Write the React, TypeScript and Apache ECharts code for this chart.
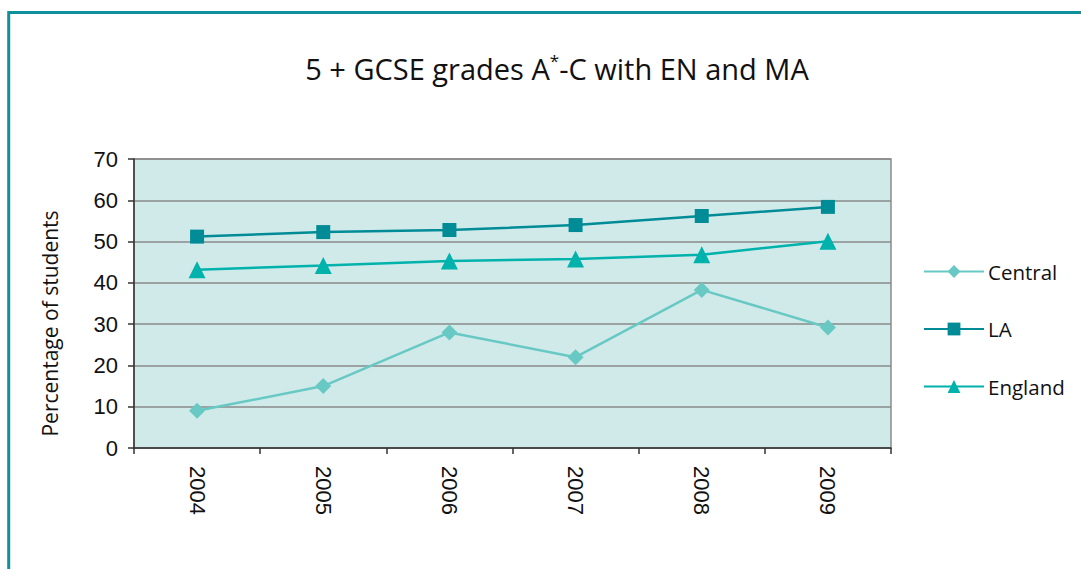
import React, { useEffect, useRef } from "react";
import * as echarts from "echarts";

const years = ["2004", "2005", "2006", "2007", "2008", "2009"];
const centralValues = [9, 15, 28, 22, 38.3, 29.2];
const laValues = [51.2, 52.3, 52.8, 54, 56.2, 58.4];
const englandValues = [43.2, 44.2, 45.3, 45.8, 46.8, 50.1];
const seriesNames = ["Central", "LA", "England"];
const titleText = "5 + GCSE grades A{s|*}-C with EN and MA";
const yAxisTitle = "Percentage of students";

export default function App() {
  const ref = useRef<HTMLDivElement>(null);
  useEffect(() => {
    if (!ref.current) return;
    const chart = echarts.init(ref.current, undefined, { renderer: "svg" });
    const lineSeries = (name: string, data: number[], color: string, symbol: string, size: number) => ({
      name,
      type: "line",
      data,
      symbol,
      symbolSize: size,
      lineStyle: { color, width: 2.5 },
      itemStyle: { color },
      showAllSymbol: true,
    });
    chart.setOption({
      animation: false,
      backgroundColor: "#ffffff",
      title: {
        text: titleText,
        left: 552,
        top: 44,
        textAlign: "center",
        textStyle: {
          fontFamily: "Open Sans",
          fontWeight: "normal",
          fontSize: 29,
          color: "#111",
          lineHeight: 38,
          rich: {
            s: { fontFamily: "Open Sans", fontSize: 17, color: "#111", padding: [0, 0, 16, 0] },
          },
        },
      },
      graphic: [
        {
          type: "rect",
          shape: { x: 8.7, y: 12.5, width: 1200, height: 1000 },
          style: { fill: "none", stroke: "#0e919b", lineWidth: 3 },
          silent: true,
        },
      ],
      grid: {
        left: 134,
        top: 159,
        right: 190,
        bottom: 121,
        show: true,
        backgroundColor: "#d0eae9",
        borderColor: "#8a8a8a",
        borderWidth: 1.5,
      },
      legend: {
        orient: "vertical",
        left: 918,
        top: 256,
        itemWidth: 60,
        itemHeight: 16,
        itemGap: 36.5,
        data: seriesNames,
        textStyle: { fontFamily: "Open Sans", fontSize: 20.5, color: "#111", padding: [0, 0, 0, -1] },
      },
      xAxis: {
        type: "category",
        data: years,
        boundaryGap: true,
        axisLine: { lineStyle: { color: "#333", width: 1.5 } },
        axisTick: { show: true, length: 6, alignWithLabel: false, lineStyle: { color: "#333", width: 1.5 } },
        axisLabel: {
          rotate: -90,
          margin: 18,
          fontFamily: "Liberation Sans",
          fontSize: 22,
          color: "#111",
        },
      },
      yAxis: {
        type: "value",
        min: 0,
        max: 70,
        interval: 10,
        name: yAxisTitle,
        nameLocation: "middle",
        nameGap: 74,
        nameRotate: 90,
        nameTextStyle: { fontFamily: "Open Sans", fontSize: 21, color: "#111", padding: [0, 40, 0, 0] },
        axisLine: { show: true, lineStyle: { color: "#333", width: 1.5 } },
        axisTick: { show: true, length: 6, lineStyle: { color: "#333", width: 1.5 } },
        axisLabel: { margin: 16, fontFamily: "Liberation Sans", fontSize: 22, color: "#111" },
        splitLine: { lineStyle: { color: "#8a8a8a", width: 1.5 } },
      },
      series: [
        lineSeries("Central", centralValues, "#68c9c4", "diamond", 16),
        lineSeries("LA", laValues, "#008c96", "rect", 14),
        lineSeries("England", englandValues, "#00b2ac", "triangle", 17),
      ],
    });
    return () => chart.dispose();
  }, []);
  return <div ref={ref} style={{ position: "fixed", left: 0, top: 0, width: 1081, height: 569 }} />;
}
